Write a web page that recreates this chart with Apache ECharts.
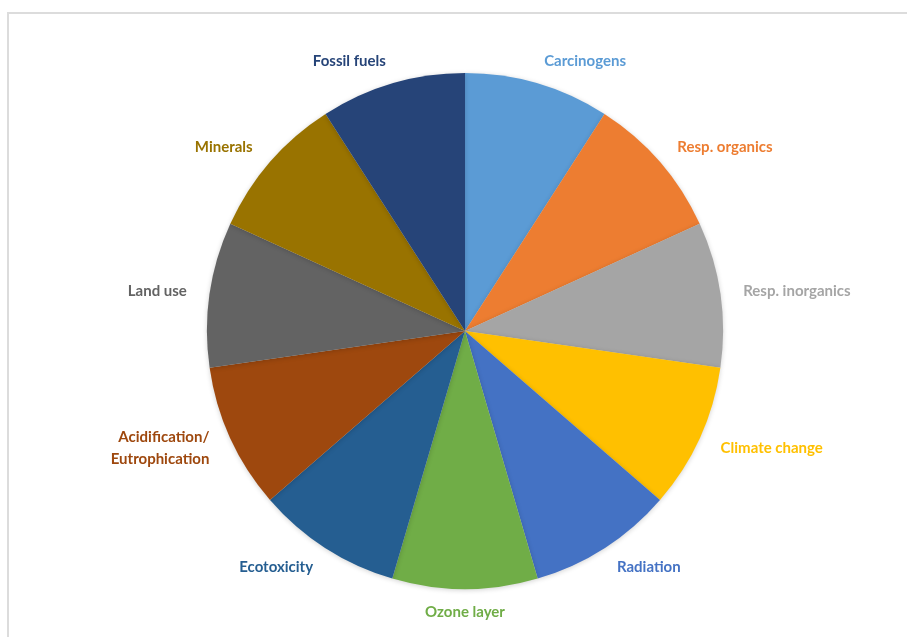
<!DOCTYPE html>
<html>
<head>
<meta charset="utf-8">
<title>Impact categories</title>
<script src="https://cdn.jsdelivr.net/npm/echarts@6/dist/echarts.min.js"></script>
<style>
  html, body { margin: 0; padding: 0; background: #ffffff; overflow: hidden; }
  #frame {
    position: absolute; left: 7px; top: 12px; width: 940px; height: 660px;
    border-top: 2px solid #dcdcdc; border-left: 2px solid #dcdcdc;
    box-sizing: border-box;
  }
  #chart { position: absolute; left: 0; top: 0; width: 907px; height: 637px; }
</style>
</head>
<body>
<div id="frame"></div>
<div id="chart"></div>
<script>
// Impact categories, clockwise from the top
const categories = [
  'Carcinogens', 'Resp. organics', 'Resp. inorganics', 'Climate change',
  'Radiation', 'Ozone layer', 'Ecotoxicity', 'Acidification/\nEutrophication',
  'Land use', 'Minerals', 'Fossil fuels'
];
// Equal weight for every category
const weights = [1, 1, 1, 1, 1, 1, 1, 1, 1, 1, 1];
const colors = [
  '#5B9BD5', '#ED7D31', '#A5A5A5', '#FFC000', '#4472C4', '#70AD47',
  '#255E91', '#9E480E', '#636363', '#997300', '#264478'
];

const chart = echarts.init(document.getElementById('chart'), null, { renderer: 'canvas' });

const data = categories.map((name, i) => ({
  name: name,
  value: weights[i],
  itemStyle: { color: colors[i] },
  label: { color: colors[i] }
}));

chart.setOption({
  animation: false,
  series: [{
    type: 'pie',
    center: [465, 331],
    radius: [0, 258],
    startAngle: 90,
    clockwise: true,
    avoidLabelOverlap: false,
    data: data,
    itemStyle: {
      borderWidth: 0,
      shadowBlur: 5,
      shadowColor: 'rgba(0,0,0,0.18)',
      shadowOffsetY: 1
    },
    label: {
      show: true,
      position: 'outside',
      fontFamily: 'Lato',
      fontWeight: 'bold',
      fontSize: 15,
      lineHeight: 22,
      align: 'center',
      distanceToLabelLine: 0
    },
    labelLine: { show: false, length: 23, length2: 0 },
    labelLayout: function (params) {
      // the bottom label sits centred under its slice
      if (params.dataIndex === 5) {
        return {
          x: params.rect.x + params.rect.width / 2,
          align: 'center'
        };
      }
      return {};
    },
    emphasis: { disabled: true }
  }]
});
</script>
</body>
</html>
